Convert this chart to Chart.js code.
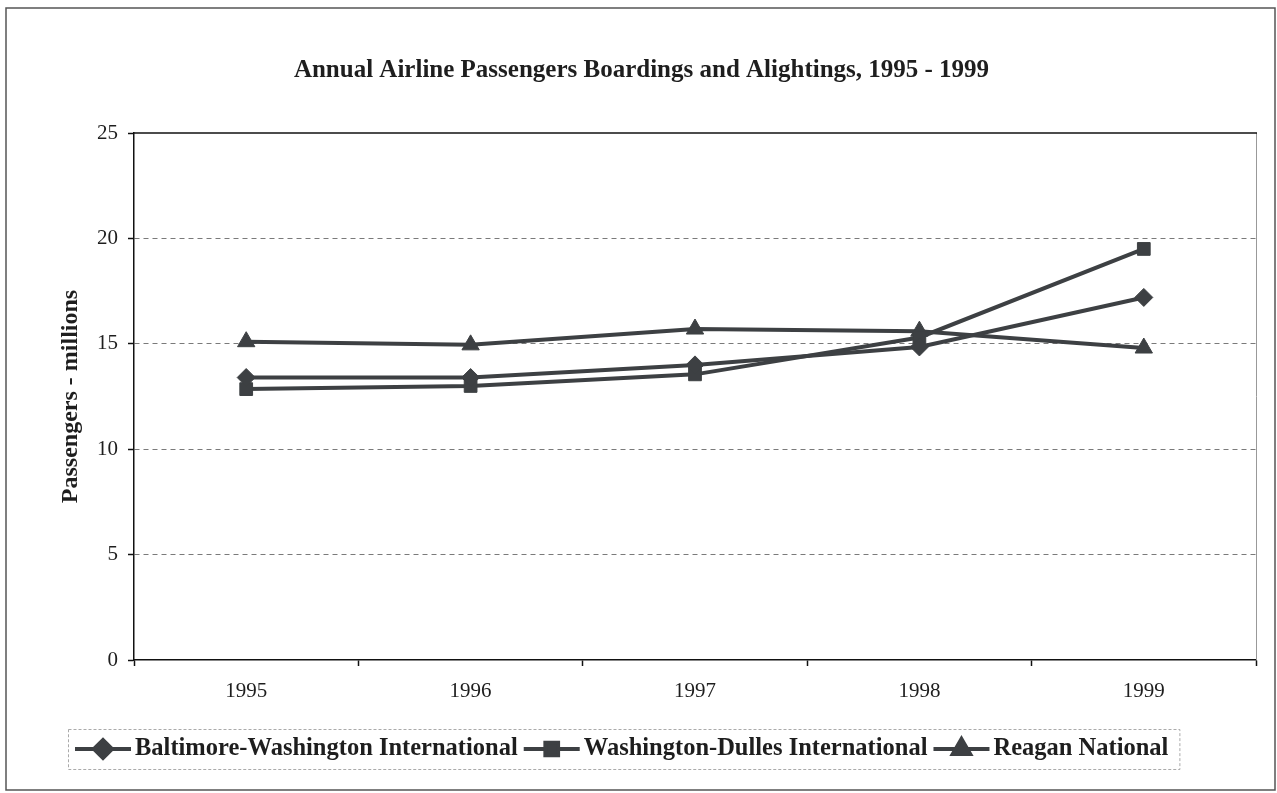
<!DOCTYPE html>
<html>
<head>
<meta charset="utf-8">
<title>Annual Airline Passengers</title>
<script src="https://cdn.jsdelivr.net/npm/chart.js@4.4.0/dist/chart.umd.min.js"></script>
<style>
    html, body { margin: 0; padding: 0; background: #fff; }
    #wrap { width: 1277px; height: 793px; }
</style>
</head>
<body>
<div id="wrap"><canvas id="myChart" width="1277" height="793"></canvas></div>
<script>
const years = ['1995', '1996', '1997', '1998', '1999']
const bwi = [13.4, 13.4, 14.0, 14.85, 17.2]
const dulles = [12.85, 13.0, 13.55, 15.3, 19.5]
const reagan = [15.1, 14.95, 15.7, 15.6, 14.8]
const seriesNames = ['Baltimore-Washington International', 'Washington-Dulles International', 'Reagan National']

const ink = '#3d4043'
const serif = "'Liberation Serif', 'Times New Roman', serif"

const mkSet = (label, data, style, r) => ({
    label: label,
    data: data,
    borderColor: ink,
    backgroundColor: ink,
    borderWidth: 4,
    pointStyle: style,
    pointRadius: r,
    pointHoverRadius: r,
    pointBorderWidth: 1,
    tension: 0
})

// frame, plot border and legend box
const framePlugin = {
    id: 'frame',
    beforeDatasetsDraw(chart) {
        const {ctx, chartArea: a} = chart
        ctx.save()
        ctx.strokeStyle = '#999'
        ctx.lineWidth = 1
        ctx.beginPath()
        ctx.moveTo(a.right + 0.5, a.top)
        ctx.lineTo(a.right + 0.5, a.bottom)
        ctx.stroke()
        ctx.strokeStyle = '#111'
        ctx.lineWidth = 1.5
        ctx.beginPath()
        ctx.moveTo(a.left, a.top)
        ctx.lineTo(a.right + 1, a.top)
        ctx.stroke()
        ctx.restore()
    },
    afterDraw(chart) {
        const ctx = chart.ctx
        ctx.save()
        ctx.strokeStyle = '#555'
        ctx.lineWidth = 1.5
        ctx.strokeRect(6, 8, 1269, 782)

        ctx.font = 'bold 24.5px ' + serif
        ctx.textBaseline = 'middle'
        const y = 749
        let x = 75
        chart.data.datasets.forEach(ds => {
            ctx.strokeStyle = ink
            ctx.lineWidth = 4
            ctx.beginPath()
            ctx.moveTo(x, y)
            ctx.lineTo(x + 56, y)
            ctx.stroke()
            ctx.fillStyle = ink
            Chart.helpers.drawPoint(ctx, {pointStyle: ds.pointStyle, radius: ds.pointRadius, borderWidth: 1, rotation: 0}, x + 28, y)
            x += 60
            ctx.fillStyle = '#1e1e1e'
            ctx.textAlign = 'left'
            ctx.fillText(ds.label, x, y)
            x += ctx.measureText(ds.label).width + 6
        })
        ctx.strokeStyle = '#aaa'
        ctx.lineWidth = 1
        ctx.setLineDash([3, 2])
        ctx.strokeRect(68.5, 729.5, x - 68 + 5, 40)
        ctx.restore()
    }
}

const config = {
    type: 'line',
    data: {
        labels: years,
        datasets: [
            mkSet(seriesNames[0], bwi, 'rectRot', 9),
            mkSet(seriesNames[1], dulles, 'rect', 9),
            mkSet(seriesNames[2], reagan, 'triangle', 10)
        ]
    },
    options: {
        responsive: false,
        animation: false,
        layout: {padding: {left: 27, right: 21, top: 0, bottom: 0}},
        plugins: {
            legend: {display: false},
            tooltip: {enabled: false},
            title: {
                display: true,
                text: 'Annual Airline Passengers Boardings and Alightings, 1995 - 1999',
                color: '#1e1e1e',
                font: {family: serif, size: 25, weight: 'bold'},
                padding: {top: 56, bottom: 47}
            }
        },
        scales: {
            x: {
                offset: true,
                afterFit: s => { s.height = 133 },
                grid: {
                    offset: true,
                    drawOnChartArea: false,
                    drawTicks: true,
                    tickLength: 6,
                    tickColor: '#111',
                    tickWidth: 1.5
                },
                border: {display: true, color: '#111', width: 1.5},
                ticks: {
                    color: '#1e1e1e',
                    font: {family: serif, size: 21},
                    padding: 13,
                    maxRotation: 0
                }
            },
            y: {
                min: 0,
                max: 25,
                afterFit: s => { s.width = 107 },
                grid: {
                    color: c => (c.tick && (c.tick.value === 0 || c.tick.value === 25)) ? 'rgba(0,0,0,0)' : '#7a7a7a',
                    lineWidth: 1,
                    drawTicks: true,
                    tickLength: 6,
                    tickColor: '#111',
                    tickWidth: 1.5
                },
                border: {display: true, color: '#111', width: 1.5, dash: [5, 4]},
                ticks: {
                    stepSize: 5,
                    color: '#1e1e1e',
                    font: {family: serif, size: 21},
                    padding: 10
                },
                title: {
                    display: true,
                    text: 'Passengers - millions',
                    color: '#1e1e1e',
                    font: {family: serif, size: 24, weight: 'bold'},
                    padding: {top: 29, bottom: 0}
                }
            }
        }
    },
    plugins: [framePlugin]
}

const myChart = new Chart(document.getElementById('myChart'), config)
</script>
</body>
</html>
